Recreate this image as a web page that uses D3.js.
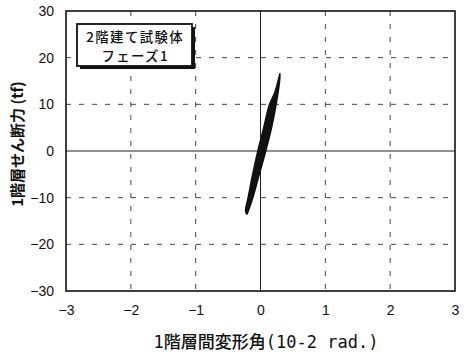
<!DOCTYPE html>
<html>
<head>
<meta charset="utf-8">
<script src="https://cdn.jsdelivr.net/npm/d3@7"></script>
<style>
  html, body { margin: 0; padding: 0; background: #fff; }
  svg { display: block; }
  text { font-family: "Liberation Sans", Arial, "Noto Sans CJK JP", sans-serif; fill: #111; }
  .jp { font-family: "Noto Sans CJK JP", sans-serif; }
  .jpmono { font-family: "DejaVu Sans Mono", "Noto Sans CJK JP", monospace; }
</style>
</head>
<body>
<svg id="chart" width="468" height="353"></svg>
<script>
// Axis ranges and ticks
const xTicks = [-3, -2, -1, 0, 1, 2, 3];
const yTicks = [-30, -20, -10, 0, 10, 20, 30];
const xLabel = "1階層間変形角(10-2 rad.)";
const yLabel = "1階層せん断力 (tf)";
const legendLines = ["2階建て試験体", "フェーズ1"];

// Hysteresis cycles: [drift angle (10^-2 rad), shear force (tf)]
const cycleA = [
  [-0.21, -13.6], [-0.13, -10.5], [-0.02, -5], [0.08, 0], [0.17, 5], [0.24, 10],
  [0.29, 14.5], [0.30, 16.6], [0.28, 15.5], [0.22, 12.5], [0.14, 10], [0.05, 5],
  [-0.04, 0], [-0.12, -5], [-0.19, -10], [-0.23, -12.8], [-0.21, -13.6]
];
const cycleB = [
  [-0.18, -11.8], [-0.10, -8], [0.00, -3], [0.09, 2], [0.17, 7], [0.24, 11.5],
  [0.27, 14.4], [0.25, 13.2], [0.18, 10], [0.09, 6], [0.00, 1], [-0.09, -4],
  [-0.16, -8.5], [-0.19, -11], [-0.18, -11.8]
];
const cycleC = [
  [-0.13, -8.5], [-0.05, -5], [0.05, 0], [0.13, 5], [0.20, 9.5], [0.23, 12],
  [0.20, 10.8], [0.11, 6.5], [0.02, 1.5], [-0.07, -3.5], [-0.14, -7.5], [-0.13, -8.5]
];
const cycles = [cycleA, cycleB, cycleC];

const svg = d3.select("#chart");
const margin = { left: 66, right: 13, top: 11, bottom: 62 };
const W = 468, H = 353;

const x = d3.scaleLinear().domain([-3, 3]).range([margin.left, W - margin.right]);
const y = d3.scaleLinear().domain([-30, 30]).range([H - margin.bottom, margin.top]);

// Dashed grid
const grid = svg.append("g");
grid.selectAll("line.gx")
  .data(xTicks.filter(d => d !== 0 && Math.abs(d) !== 3))
  .join("line")
  .attr("x1", d => x(d)).attr("x2", d => x(d))
  .attr("y1", y(30)).attr("y2", y(-30))
  .attr("stroke", "#444").attr("stroke-width", 1).attr("stroke-dasharray", "5,8");
grid.selectAll("line.gy")
  .data(yTicks.filter(d => d !== 0 && Math.abs(d) !== 30))
  .join("line")
  .attr("x1", x(-3)).attr("x2", x(3))
  .attr("y1", d => y(d)).attr("y2", d => y(d))
  .attr("stroke", "#444").attr("stroke-width", 1).attr("stroke-dasharray", "5,8");

// Zero lines
grid.append("line")
  .attr("x1", x(0)).attr("x2", x(0)).attr("y1", y(30)).attr("y2", y(-30))
  .attr("stroke", "#222").attr("stroke-width", 1);
grid.append("line")
  .attr("x1", x(-3)).attr("x2", x(3)).attr("y1", y(0)).attr("y2", y(0))
  .attr("stroke", "#222").attr("stroke-width", 1);

// Axes
const xAxis = d3.axisBottom(x).tickValues(xTicks).tickSize(0).tickPadding(14)
  .tickFormat(d => d < 0 ? "\u2212" + Math.abs(d) : d);
const yAxis = d3.axisLeft(y).tickValues(yTicks).tickSize(0).tickPadding(12)
  .tickFormat(d => d < 0 ? "\u2212" + Math.abs(d) : d);

const gx = svg.append("g").attr("transform", `translate(0,${y(-30)})`).call(xAxis);
const gy = svg.append("g").attr("transform", `translate(${x(-3)},0)`).call(yAxis);
[gx, gy].forEach(g => {
  g.select(".domain").remove();
  g.selectAll("text").style("font-size", "14px").attr("fill", "#111");
});

// Frame
svg.append("rect")
  .attr("x", x(-3)).attr("y", y(30))
  .attr("width", x(3) - x(-3)).attr("height", y(-30) - y(30))
  .attr("fill", "none").attr("stroke", "#111").attr("stroke-width", 1.6);

// Hysteresis loops
const line = d3.line().x(d => x(d[0])).y(d => y(d[1])).curve(d3.curveCatmullRom.alpha(0.5));
svg.append("g").selectAll("path")
  .data(cycles)
  .join("path")
  .attr("d", line)
  .attr("fill", "#111")
  .attr("stroke", "#111")
  .attr("stroke-width", 1.6)
  .attr("stroke-linejoin", "round");

// Legend box with drop shadow
const lg = svg.append("g");
const bx = 77, by = 24, bw = 115, bh = 42;
lg.append("rect").attr("x", bx + 3).attr("y", by + 3).attr("width", bw).attr("height", bh).attr("fill", "#111");
lg.append("rect").attr("x", bx).attr("y", by).attr("width", bw).attr("height", bh)
  .attr("fill", "#fff").attr("stroke", "#111").attr("stroke-width", 1.8);
lg.selectAll("text.leg")
  .data(legendLines)
  .join("text")
  .attr("class", "jp leg")
  .attr("x", bx + bw / 2 + 0.7)
  .attr("y", (d, i) => by + 17.5 + i * 19.5)
  .attr("text-anchor", "middle")
  .style("font-size", "13.4px")
  .style("letter-spacing", "1.4px")
  .style("font-weight", "500")
  .text(d => d);

// Axis titles
svg.append("text")
  .attr("class", "jpmono")
  .attr("x", 266)
  .attr("y", 342)
  .attr("text-anchor", "middle")
  .attr("dominant-baseline", "central")
  .style("font-size", "17px")
  .style("font-weight", "500")
  .text(xLabel);

svg.append("text")
  .attr("class", "jp")
  .attr("transform", "translate(16,144) rotate(-90)")
  .attr("text-anchor", "middle")
  .attr("dominant-baseline", "central")
  .style("font-size", "15px")
  .style("font-weight", "bold")
  .text(yLabel);
</script>
</body>
</html>
